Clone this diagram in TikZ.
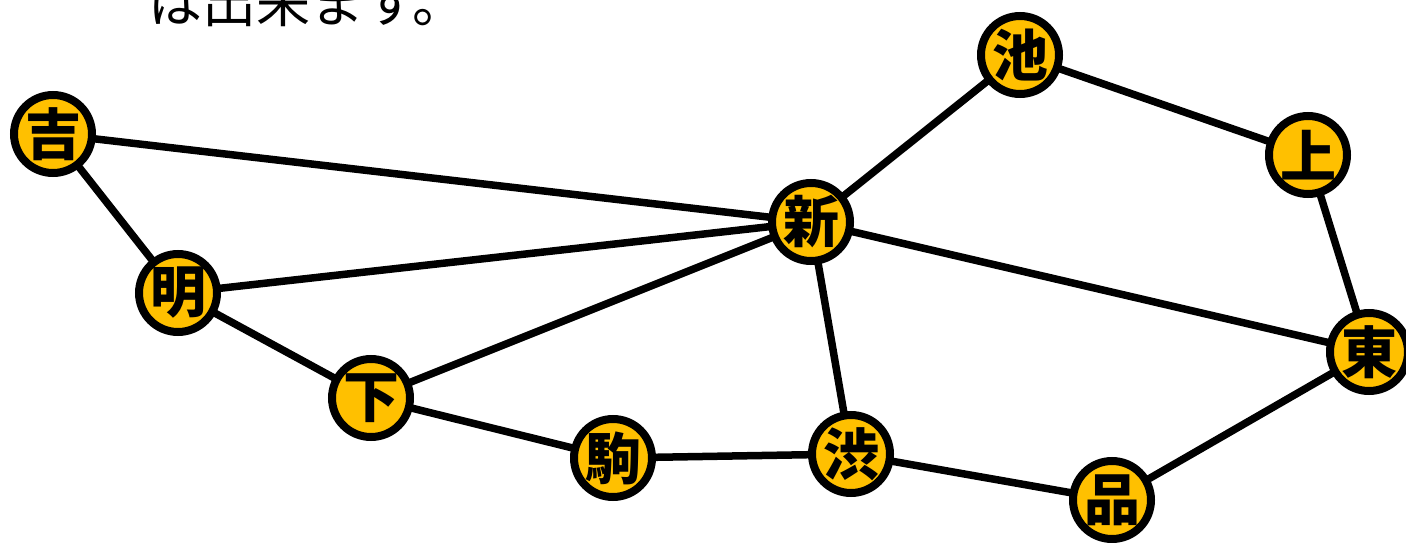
\documentclass[tikz,border=0pt]{standalone}
\usepackage{fontspec}
\newfontfamily\cjk{Noto Sans CJK JP}
\definecolor{station}{HTML}{FFC000}
\tikzset{
  stn/.style={circle, draw=black, line width=8pt, fill=station, minimum size=78pt, inner sep=0pt,
    font=\cjk\bfseries\fontsize{56}{56}\selectfont},
  rail/.style={line width=7.5pt, draw=black}
}
\begin{document}
\begin{tikzpicture}[x=1pt,y=-1pt]
\useasboundingbox (0,0) rectangle (1406,543);
\clip (0,0) rectangle (1406,543);
\node[anchor=base west, inner sep=0pt, font=\cjk\fontsize{54}{54}\selectfont] (cap) at (148,23) {は出来ます。};
\coordinate (pY) at (53,134);
\coordinate (pM) at (178,293);
\coordinate (pS) at (371,398);
\coordinate (pK) at (613,458);
\coordinate (pB) at (851,454);
\coordinate (pH) at (1112,500);
\coordinate (pT) at (1369,352);
\coordinate (pU) at (1308,155);
\coordinate (pI) at (1020,55);
\coordinate (pN) at (811,222);
\draw[rail] (pY) -- (pN);
\draw[rail] (pY) -- (pM);
\draw[rail] (pM) -- (pN);
\draw[rail] (pM) -- (pS);
\draw[rail] (pS) -- (pN);
\draw[rail] (pS) -- (pK);
\draw[rail] (pK) -- (pB);
\draw[rail] (pB) -- (pN);
\draw[rail] (pB) -- (pH);
\draw[rail] (pH) -- (pT);
\draw[rail] (pT) -- (pN);
\draw[rail] (pT) -- (pU);
\draw[rail] (pU) -- (pI);
\draw[rail] (pI) -- (pN);
\node[stn] (Y) at (pY) {吉};
\node[stn] (M) at (pM) {明};
\node[stn] (S) at (pS) {下};
\node[stn] (K) at (pK) {駒};
\node[stn] (B) at (pB) {渋};
\node[stn] (H) at (pH) {品};
\node[stn] (T) at (pT) {東};
\node[stn] (U) at (pU) {上};
\node[stn] (I) at (pI) {池};
\node[stn] (N) at (pN) {新};
\end{tikzpicture}
\end{document}
